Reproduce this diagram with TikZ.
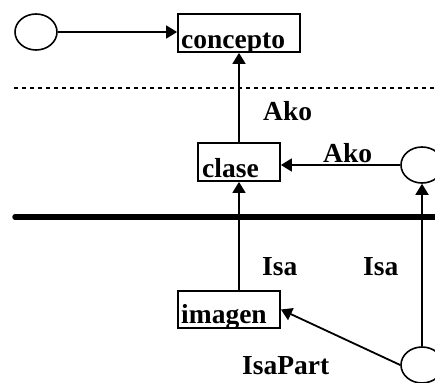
\documentclass[tikz,border=0pt]{standalone}
\usepackage{fontspec}
\setmainfont{Liberation Serif}
\usetikzlibrary{arrows.meta,shapes.geometric}

\tikzset{
	caja/.style={draw, rectangle, line width=1.8pt, inner sep=0pt},
	nodo/.style={draw, ellipse, line width=1.6pt, minimum width=42pt, minimum height=36pt, inner sep=0pt},
	rel/.style={line width=1.8pt, -{Triangle[length=11pt,width=13pt]}},
	etiq/.style={font=\fontsize{27.5}{30}\selectfont\bfseries, inner sep=0pt, anchor=base west},
}

\begin{document}
\begin{tikzpicture}[x=1pt, y=-1pt]
		\useasboundingbox (0,0) rectangle (435,382);

		%% Separators
		\draw[line width=1.8pt, dash pattern=on 4pt off 4pt] (14,88) -- (435,88);
		\draw[line width=5.5pt, line cap=round] (15,217) -- (442,217);

		% CONCEPTO
		\node[caja, minimum width=122pt, minimum height=38pt] (concepto) at (239,33) {};
		\begin{scope}
			\clip (concepto.south west) rectangle (concepto.north east);
			\node[etiq] (concepto-t) at (181,48.5) {concepto};
		\end{scope}

		% CLASE
		\node[caja, minimum width=82pt, minimum height=38pt] (clase) at (239,162) {};
		\begin{scope}
			\clip (clase.south west) rectangle (clase.north east);
			\node[etiq] (clase-t) at (202,177) {clase};
		\end{scope}

		% IMAGEN
		\node[caja, minimum width=102pt, minimum height=37pt] (imagen) at (229,309.5) {};
		\begin{scope}
			\clip (imagen.south west) rectangle (imagen.north east);
			\node[etiq] (imagen-t) at (181,323) {imagen};
		\end{scope}

		% instances
		\node[nodo] (inst) at (36,32) {};
		\node[nodo] (sup) at (422,165) {};
		\node[nodo] (inf) at (422,365) {};

		% relations
		\draw[rel] (inst.east) -- (inst.east -| concepto.west);
		\draw[rel] (clase.north) -- (concepto.south);
		\draw[rel] (sup.west) -- (sup.west -| clase.east);
		\draw[rel] (clase.south |- imagen.north) -- (clase.south);
		\draw[rel] (inf.north) -- (sup.south);
		\draw[rel] (inf.west) -- (imagen.east);

		% labels
		\node[etiq] (ako1) at (263,121) {Ako};
		\node[etiq] (ako2) at (323,162) {Ako};
		\node[etiq] (isa1) at (262,275) {Isa};
		\node[etiq] (isa2) at (363,275) {Isa};
		\node[etiq] (isapart) at (242,374) {IsaPart};
	\end{tikzpicture}
\end{document}
